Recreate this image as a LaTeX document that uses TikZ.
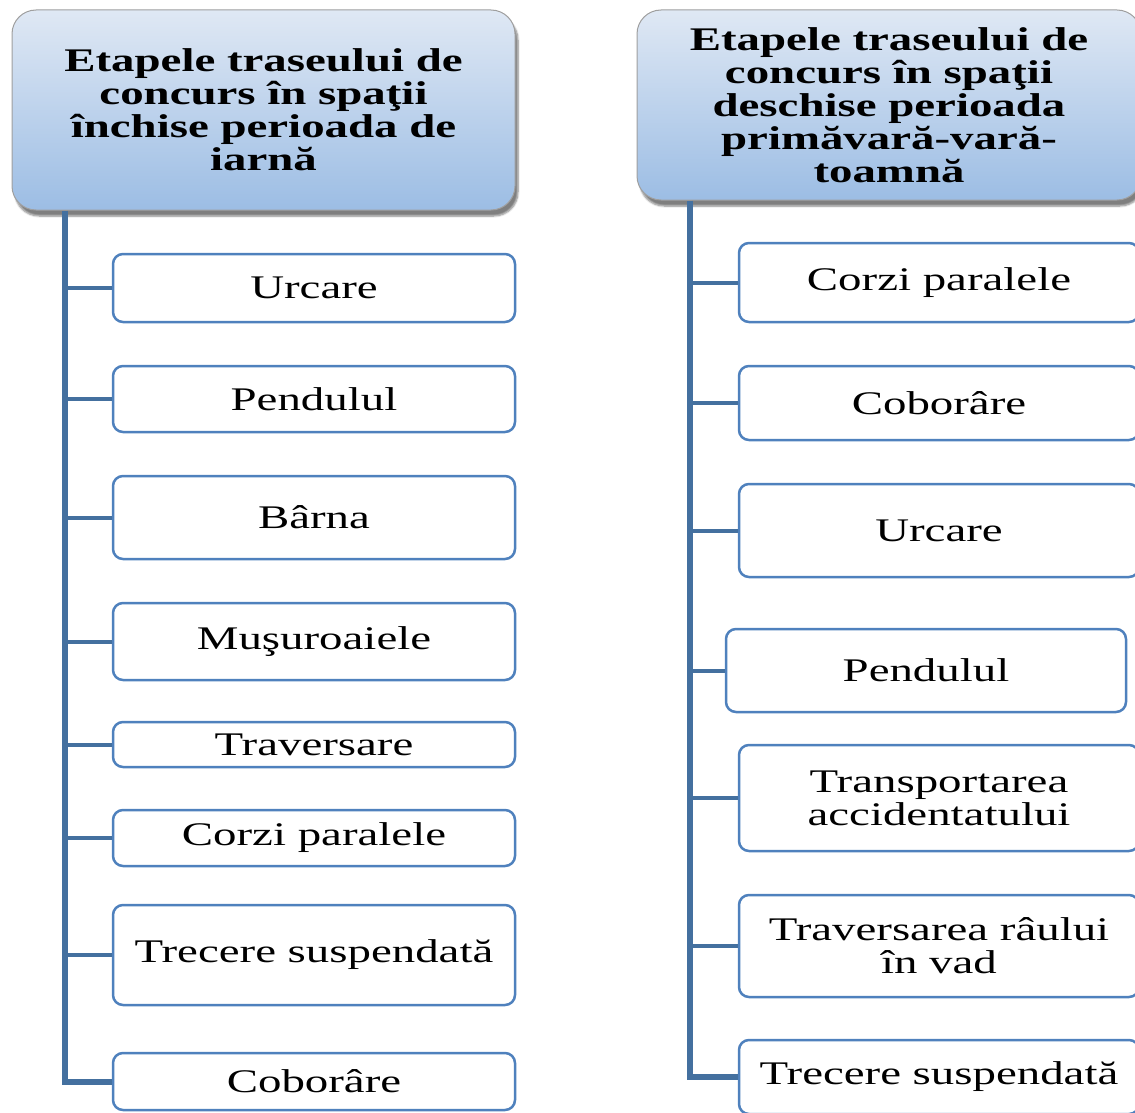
\documentclass[tikz,border=0pt]{standalone}
\usepackage{fontspec}
\setmainfont[FakeStretch=1.42]{Liberation Serif}
\usetikzlibrary{shadows.blur}
\definecolor{boxblue}{HTML}{4F81BD}
\definecolor{trunkblue}{HTML}{44709F}
\definecolor{hdtop}{HTML}{DFE8F4}
\definecolor{hdbot}{HTML}{9CBDE4}
\tikzset{
  header/.style={rectangle, rounded corners=24pt, draw=gray!75, line width=1pt,
    top color=hdtop, bottom color=hdbot, align=center, inner sep=0pt,
    font=\fontsize{33}{33}\selectfont\bfseries,
    blur shadow={shadow xshift=3pt, shadow yshift=-6pt, shadow blur steps=6, shadow opacity=50}},
  item/.style={rectangle, rounded corners=10pt, draw=boxblue, line width=2.5pt,
    fill=white, align=center, inner sep=0pt,
    font=\fontsize{33}{33}\selectfont},
  trunk/.style={draw=trunkblue, line width=6pt},
  branch/.style={draw=trunkblue, line width=4pt}
}
\begin{document}
\begin{tikzpicture}[x=1pt,y=-1pt]
\useasboundingbox (0,0) rectangle (1135,1113);
% headers
\node[header, minimum width=503pt, minimum height=200pt] (H1) at (263.5,110)
  {Etapele traseului de\\concurs în spaţii\\închise perioada de\\iarnă};
\node[header, minimum width=504pt, minimum height=190pt] (H2) at (889,105)
  {Etapele traseului de\\concurs în spaţii\\deschise perioada\\primăvară-vară-\\toamnă};
% left boxes
\node[item, minimum width=402pt, minimum height=68pt] (L1) at (314,288) {Urcare};
\node[item, minimum width=402pt, minimum height=66pt] (L2) at (314,399) {Pendulul};
\node[item, minimum width=402pt, minimum height=83pt] (L3) at (314,517.5) {Bârna};
\node[item, minimum width=402pt, minimum height=77pt] (L4) at (314,641.5) {Muşuroaiele};
\node[item, minimum width=402pt, minimum height=45pt] (L5) at (314,744.5) {Traversare};
\node[item, minimum width=402pt, minimum height=56pt] (L6) at (314,838) {Corzi paralele};
\node[item, minimum width=402pt, minimum height=100pt] (L7) at (314,955) {Trecere suspendată};
\node[item, minimum width=402pt, minimum height=57pt] (L8) at (314,1081.5) {Coborâre};
% right boxes
\node[item, minimum width=400pt, minimum height=79pt] (R1) at (939,282.5) {Corzi paralele};
\node[item, minimum width=400pt, minimum height=74pt] (R2) at (939,403) {Coborâre};
\node[item, minimum width=400pt, minimum height=93pt] (R3) at (939,530.5) {Urcare};
\node[item, minimum width=400pt, minimum height=83pt] (R4) at (926,670.5) {Pendulul};
\node[item, minimum width=400pt, minimum height=106pt] (R5) at (939,798) {Transportarea\\accidentatului};
\node[item, minimum width=400pt, minimum height=102pt] (R6) at (939,946) {Traversarea râului\\în vad};
\node[item, minimum width=400pt, minimum height=74pt] (R7) at (939,1077) {Trecere suspendată};
% connectors
\coordinate (LT) at (65,0);
\coordinate (RT) at (690,0);
\draw[trunk] (LT |- H1.south) |- (L8.west);
\foreach \b in {L1,L2,L3,L4,L5,L6,L7}
  \draw[branch] (LT |- \b.west) -- (\b.west);
\draw[trunk] (RT |- H2.south) |- (R7.west);
\foreach \b in {R1,R2,R3,R4,R5,R6}
  \draw[branch] (RT |- \b.west) -- (\b.west);
\end{tikzpicture}
\end{document}
